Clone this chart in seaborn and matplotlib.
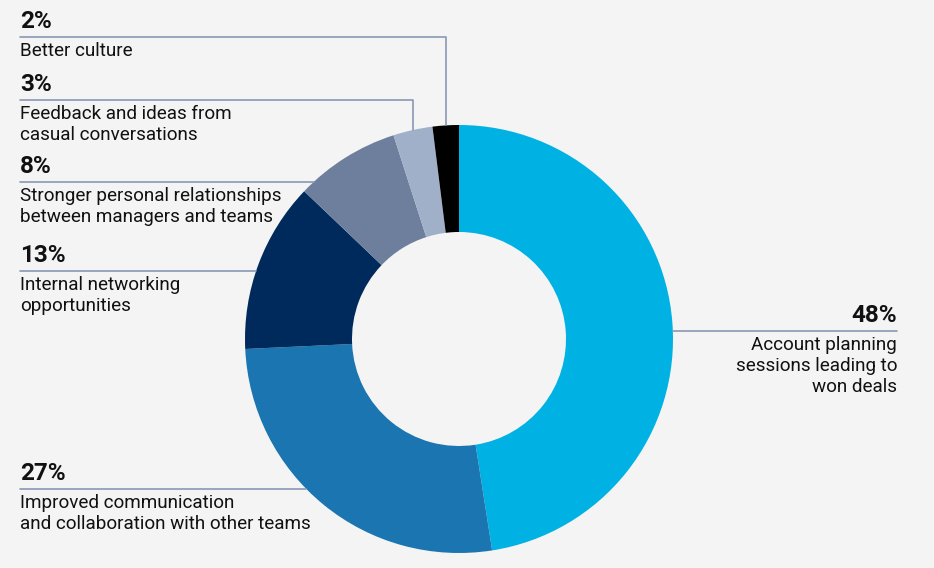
import numpy as np
import matplotlib.pyplot as plt
import seaborn as sns

# Data
labels = [
    "Account planning\nsessions leading to\nwon deals",
    "Improved communication\nand collaboration with other teams",
    "Internal networking\nopportunities",
    "Stronger personal relationships\nbetween managers and teams",
    "Feedback and ideas from\ncasual conversations",
    "Better culture",
]
values = [48, 27, 13, 8, 3, 2]
colors = ["#00B2E3", "#1A75B0", "#002A5C", "#6E7F9E", "#A0B0C8", "#000000"]

# layout (pixels from top-left)
W, H = 934, 568
cx, cy, R = 459, 339, 214
line_y = [331, 489, 271, 182, 100, 37]
line_col = "#8A98B4"
bg = "#F4F4F4"

sns.set_theme(style="white")
plt.rcParams["font.family"] = ["Roboto", "DejaVu Sans"]

fig = plt.figure(figsize=(W / 100, H / 100), dpi=100, facecolor=bg)
ax = fig.add_axes([0, 0, 1, 1])
ax.set_facecolor(bg)
ax.axis("off")

def py(y):
    return H - y

wedges, _ = ax.pie(values, colors=colors, startangle=90, counterclock=False,
                   radius=R, center=(cx, py(cy)),
                   wedgeprops=dict(width=R / 2, linewidth=0))
ax.set_xlim(0, W)
ax.set_ylim(0, H)
ax.set_aspect("equal")

for i, (w, lab, v, ly) in enumerate(zip(wedges, labels, values, line_y)):
    mid = np.deg2rad((w.theta1 + w.theta2) / 2)
    right = i == 0
    dy = cy - ly
    if i < 4:
        # straight leader ending on the outer edge of the ring
        dx = np.sqrt(R ** 2 - dy ** 2)
        xe = cx + dx if right else cx - dx
        if right:
            ax.plot([xe, 897], [py(ly), py(ly)], color=line_col, lw=1.2)
        else:
            ax.plot([20, xe], [py(ly), py(ly)], color=line_col, lw=1.2)
    else:
        # small slices: elbow line down to the slice middle
        xm = cx + R * np.cos(mid)
        ym = cy - R * np.sin(mid)
        ax.plot([20, xm, xm], [py(ly), py(ly), py(ym)], color=line_col, lw=1.2)
    xt = 897 if right else 20
    ha = "right" if right else "left"
    ax.text(xt, py(ly - 9), f"{v}%", ha=ha, va="baseline", fontsize=17.5,
            fontweight="bold", color="#111111")
    ax.text(xt, py(ly + 5), lab, ha=ha, va="top", fontsize=13.6,
            color="#111111", linespacing=1.2)

fig.savefig("out.png", dpi=100, facecolor=bg)
